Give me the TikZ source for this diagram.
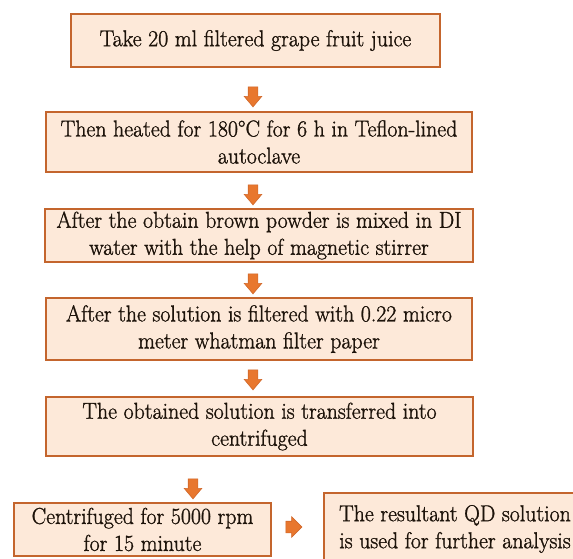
\documentclass[tikz,border=0pt]{standalone}
\usepackage{fontspec}
\setmainfont{Latin Modern Roman}[FakeStretch=0.95,FakeBold=1.2]
\usepackage{xcolor}
\usepackage{tikz}
\usetikzlibrary{arrows.meta,positioning,calc,shapes.arrows}

\definecolor{stepfill}{HTML}{FDE9D9}
\definecolor{stepedge}{HTML}{C4652D}
\definecolor{arrfill}{HTML}{E8772E}
\definecolor{arredge}{HTML}{D0672A}

\begin{document}
\begin{tikzpicture}[x=1pt, y=-1pt,
            box/.style={draw=stepedge, fill=stepfill, line width=2.4pt, rectangle, align=center,
                 inner sep=0pt, text=black!85!brown, font=\fontsize{23}{27}\selectfont},
            downarr/.style={draw=arredge, fill=arrfill, line width=.6pt, single arrow, rotate=-90,
                 inner xsep=0pt, inner ysep=4.5pt, single arrow head extend=4pt,
                 single arrow tip angle=80, minimum height=20pt},
            rightarr/.style={draw=arredge, fill=arrfill, line width=.6pt, single arrow,
                 inner xsep=0pt, inner ysep=5.5pt, single arrow head extend=4.5pt,
                 single arrow tip angle=90, minimum height=16pt}
            ]
            \useasboundingbox (0,0) rectangle (573,559);

            % Steps with manual coordinates
            \node[box, minimum width=369pt, minimum height=53pt] (take) at (255.5,40.5) {Take 20 ml filtered grape fruit juice};
            \node[box, minimum width=426pt, minimum height=60pt] (heat) at (259,142) {Then heated for 180°C for 6 h in Teflon-lined\\autoclave};
            \node[box, minimum width=428pt, minimum height=53pt] (mix) at (259,235.5) {After the obtain brown powder is mixed in DI\\water with the help of magnetic stirrer};
            \node[box, minimum width=426pt, minimum height=62pt] (filt) at (259,329) {After the solution is filtered with 0.22 micro\\meter whatman filter paper};
            \node[box, minimum width=427pt, minimum height=59pt] (trans) at (259.5,426.5) {The obtained solution is transferred into\\centrifuged};
            \node[box, minimum width=257pt, minimum height=53pt] (cent) at (142.5,529.5) {Centrifuged for 5000 rpm\\for 15 minute};
            \node[box, minimum width=262pt, minimum height=72pt] (res) at (455,529) {The resultant QD solution\\is used for further analysis};

            % Block arrows
            \node[downarr] (a1) at (253,94) {};
            \node[downarr] (a2) at (253,192) {};
            \node[downarr] (a3) at (253,281) {};
            \node[downarr] (a4) at (253,377) {};
            \node[downarr] (a5) at (193,486) {};
            \node[rightarr] (a6) at (291,527) {};
        \end{tikzpicture}
\end{document}
